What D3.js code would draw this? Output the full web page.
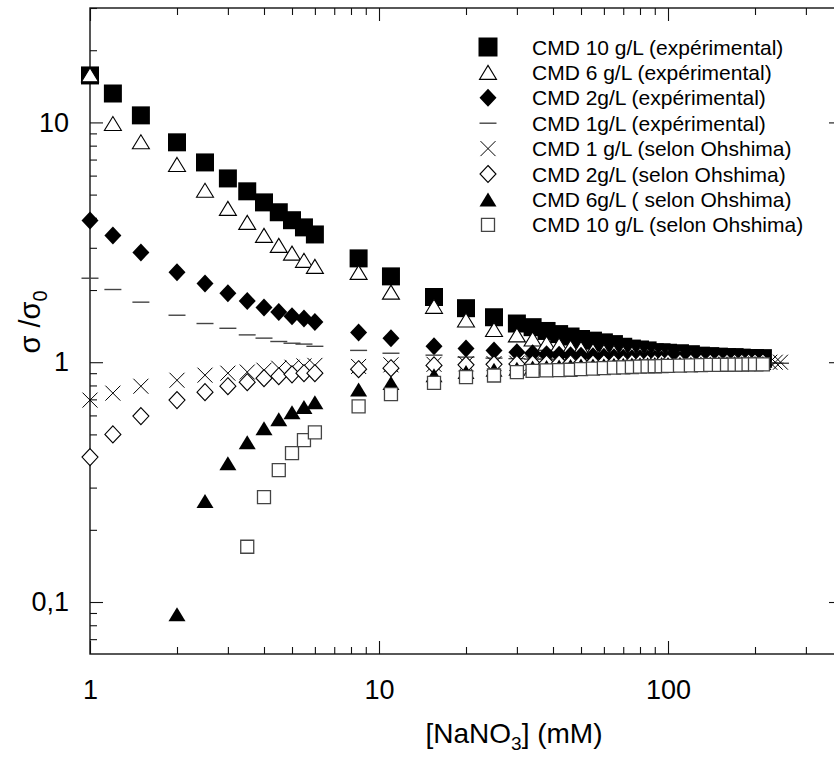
<!DOCTYPE html>
<html><head><meta charset="utf-8">
<script src="https://cdn.jsdelivr.net/npm/d3@7"></script>
<style>
body{margin:0;background:#fff}
svg{display:block}
text{font-family:"Liberation Sans",Arial,Helvetica,sans-serif;fill:#000}
</style>
</head><body>
<svg id="chart" width="834" height="758"></svg>
<script>
// ---- data ----
const concentration = [1, 1.2, 1.5, 2, 2.5, 3, 3.5, 4, 4.5, 5, 5.5, 6, 8.5, 11, 15.5, 20, 25, 30, 34, 38, 42, 46, 50, 55, 60, 65, 70, 75, 80, 85, 90, 95, 100, 110, 120, 130, 140, 150, 160, 170, 180, 190, 200, 213];
const tailConcentration = [225, 235, 245];

const cmd10Exp = [15.7, 13.2, 10.7, 8.26, 6.81, 5.84, 5.16, 4.64, 4.22, 3.91, 3.65, 3.41, 2.71, 2.28, 1.87, 1.68, 1.54, 1.45, 1.40, 1.35, 1.31, 1.28, 1.25, 1.23, 1.21, 1.19, 1.16, 1.14, 1.13, 1.12, 1.10, 1.10, 1.095, 1.09, 1.08, 1.065, 1.06, 1.055, 1.05, 1.05, 1.045, 1.04, 1.04, 1.04];
const cmd6Exp = [15.8, 9.9, 8.3, 6.68, 5.21, 4.38, 3.83, 3.38, 3.07, 2.85, 2.66, 2.51, 2.37, 1.96, 1.71, 1.50, 1.37, 1.30, 1.25, 1.20, 1.18, 1.155, 1.14, 1.12, 1.11, 1.10, 1.09, 1.085, 1.08, 1.07, 1.07, 1.065, 1.06, 1.055, 1.05, 1.045, 1.04, 1.035, 1.03, 1.03, 1.025, 1.02, 1.02, 1.02];
const cmd2Exp = [3.9, 3.38, 2.87, 2.37, 2.13, 1.94, 1.80, 1.69, 1.62, 1.555, 1.52, 1.47, 1.33, 1.26, 1.166, 1.14, 1.12, 1.10, 1.09, 1.08, 1.075, 1.07, 1.065, 1.06, 1.055, 1.05, 1.045, 1.04, 1.04, 1.035, 1.035, 1.03, 1.03, 1.025, 1.025, 1.02, 1.02, 1.02, 1.015, 1.015, 1.01, 1.01, 1.01, 1.01];
const cmd1Exp = [2.24, 2.01, 1.78, 1.57, 1.45, 1.385, 1.30, 1.26, 1.22, 1.20, 1.19, 1.165, 1.12, 1.09, 1.07, 1.05, 1.04, 1.035, 1.03, 1.03, 1.025, 1.025, 1.02, 1.02, 1.015, 1.015, 1.01, 1.01, 1.01, 1.005, 1.005, 1.005, 1.0, 1.0, 1.0, 1.0, 1.0, 0.995, 0.995, 0.995, 0.995, 0.995, 0.995, 0.995];
const cmd1ExpTail = [0.995, 0.99, 0.99];
const cmd1Ohshima = [0.695, 0.743, 0.794, 0.841, 0.883, 0.90, 0.91, 0.926, 0.944, 0.953, 0.965, 0.97, 0.96, 0.975, 0.98, 0.985, 0.987, 0.99, 0.992, 0.993, 0.994, 0.995, 0.995, 0.996, 0.996, 0.997, 0.997, 0.997, 0.998, 0.998, 0.998, 0.998, 0.999, 0.999, 0.999, 0.999, 0.999, 1.0, 1.0, 1.0, 1.0, 1.0, 1.0, 1.0];
const cmd1OhshimaTail = [1.0, 1.0, 1.0];
const cmd2Ohshima = [0.402, 0.50, 0.596, 0.695, 0.75, 0.794, 0.825, 0.858, 0.874, 0.89, 0.90, 0.90, 0.935, 0.944, 0.97, 0.975, 0.98, 0.983, 0.985, 0.987, 0.988, 0.989, 0.99, 0.99, 0.991, 0.992, 0.992, 0.993, 0.993, 0.994, 0.994, 0.994, 0.995, 0.995, 0.995, 0.996, 0.996, 0.996, 0.997, 0.997, 0.997, 0.998, 0.998, 0.998];
const cmd6Ohshima = [null, null, null, 0.089, 0.264, 0.379, 0.464, 0.53, 0.578, 0.619, 0.65, 0.68, 0.77, 0.82, 0.883, 0.91, 0.93, 0.94, 0.95, 0.955, 0.96, 0.965, 0.968, 0.97, 0.972, 0.975, 0.977, 0.978, 0.98, 0.981, 0.982, 0.983, 0.984, 0.985, 0.986, 0.987, 0.988, 0.989, 0.99, 0.99, 0.991, 0.992, 0.992, 0.993];
const cmd10Ohshima = [null, null, null, null, null, null, 0.17, 0.274, 0.355, 0.418, 0.473, 0.51, 0.655, 0.736, 0.82, 0.866, 0.88, 0.91, 0.92, 0.925, 0.926, 0.93, 0.935, 0.94, 0.945, 0.95, 0.952, 0.955, 0.958, 0.96, 0.962, 0.964, 0.966, 0.968, 0.97, 0.972, 0.974, 0.975, 0.976, 0.977, 0.978, 0.979, 0.98, 0.98];

const seriesLabels = [
  "CMD 10 g/L (expérimental)",
  "CMD 6 g/L (expérimental)",
  "CMD 2g/L (expérimental)",
  "CMD 1g/L (expérimental)",
  "CMD 1 g/L (selon Ohshima)",
  "CMD 2g/L (selon Ohshima)",
  "CMD 6g/L ( selon Ohshima)",
  "CMD 10 g/L (selon Ohshima)"
];
const xMajorTicks = [1, 10, 100];
const xTickLabels = ["1", "10", "100"];
const yMajorTicks = [0.1, 1, 10];
const yTickLabels = ["0,1", "1", "10"];

// ---- marker shapes ----
const shapes = {
  square: s => `M${-s/2},${-s/2}h${s}v${s}h${-s}Z`,
  triangle: (w, h) => `M0,${-h/2}L${w/2},${h/2}L${-w/2},${h/2}Z`,
  diamond: (w, h) => `M0,${-h/2}L${w/2},0L0,${h/2}L${-w/2},0Z`,
  dash: w => `M${-w/2},0H${w/2}`,
  cross: a => `M${-a},${-a}L${a},${a}M${-a},${a}L${a},${-a}`
};
const styles = [
  {d: shapes.square(18), fill: "#000", stroke: "none", sw: 0},
  {d: shapes.triangle(17, 14), fill: "#fff", stroke: "#000", sw: 1.1},
  {d: shapes.diamond(17, 18), fill: "#000", stroke: "none", sw: 0},
  {d: shapes.dash(17), fill: "none", stroke: "#444", sw: 1.4},
  {d: shapes.cross(7.5), fill: "none", stroke: "#000", sw: 1.0},
  {d: shapes.diamond(16, 17), fill: "#fff", stroke: "#000", sw: 1.1},
  {d: shapes.triangle(17, 14), fill: "#000", stroke: "none", sw: 0},
  {d: shapes.square(13), fill: "#fff", stroke: "#444", sw: 1.3}
];
const seriesValues = [cmd10Exp, cmd6Exp, cmd2Exp, cmd1Exp, cmd1Ohshima, cmd2Ohshima, cmd6Ohshima, cmd10Ohshima];
const tails = {3: cmd1ExpTail, 4: cmd1OhshimaTail};

// ---- scales ----
const svg = d3.select("#chart");
const mLeft = 90, mRight = 842, mTop = 8, mBottom = 654;
const x = d3.scaleLog().domain([1, 400]).range([mLeft, mRight]);
const y = d3.scaleLog().domain([0.0607, 30]).range([mBottom, mTop]);

const xMinor = [];
[1, 10, 100].forEach(d => { for (let k = 2; k <= 9; k++) { const v = d * k; if (v <= 400) xMinor.push(v); } });
const yMinor = [];
[0.01, 0.1, 1, 10].forEach(d => { for (let k = 2; k <= 9; k++) { const v = d * k; if (v >= 0.0607 && v <= 30) yMinor.push(v); } });

function styleAxis(g, fs) {
  g.attr("font-family", null).attr("font-size", null);
  g.select(".domain").remove();
  g.selectAll(".tick line").attr("stroke", "#111").attr("stroke-width", 1.1);
  g.selectAll(".tick text").style("font-size", fs + "px");
}

// bottom
svg.append("g").attr("transform", `translate(0,${mBottom})`)
  .call(d3.axisBottom(x).tickValues(xMinor).tickSizeInner(-7).tickSizeOuter(0).tickFormat(""))
  .call(g => styleAxis(g, 27));
svg.append("g").attr("transform", `translate(0,${mBottom})`)
  .call(d3.axisBottom(x).tickValues(xMajorTicks).tickSizeInner(-13).tickSizeOuter(0).tickPadding(26)
    .tickFormat((d, i) => xTickLabels[i]))
  .call(g => styleAxis(g, 27));
// top
svg.append("g").attr("transform", `translate(0,${mTop})`)
  .call(d3.axisTop(x).tickValues(xMinor).tickSizeInner(-7).tickSizeOuter(0).tickFormat(""))
  .call(g => styleAxis(g, 27));
svg.append("g").attr("transform", `translate(0,${mTop})`)
  .call(d3.axisTop(x).tickValues(xMajorTicks).tickSizeInner(-13).tickSizeOuter(0).tickFormat(""))
  .call(g => styleAxis(g, 27));
// left
svg.append("g").attr("transform", `translate(${mLeft},0)`)
  .call(d3.axisLeft(y).tickValues(yMinor).tickSizeInner(-7).tickSizeOuter(0).tickFormat(""))
  .call(g => styleAxis(g, 27));
svg.append("g").attr("transform", `translate(${mLeft},0)`)
  .call(d3.axisLeft(y).tickValues(yMajorTicks).tickSizeInner(-13).tickSizeOuter(0).tickPadding(21)
    .tickFormat((d, i) => yTickLabels[i]))
  .call(g => styleAxis(g, 27));
// right
svg.append("g").attr("transform", `translate(${mRight},0)`)
  .call(d3.axisRight(y).tickValues(yMinor).tickSizeInner(-7).tickSizeOuter(0).tickFormat(""))
  .call(g => styleAxis(g, 27));
svg.append("g").attr("transform", `translate(${mRight},0)`)
  .call(d3.axisRight(y).tickValues(yMajorTicks).tickSizeInner(-13).tickSizeOuter(0).tickFormat(""))
  .call(g => styleAxis(g, 27));

// frame
svg.append("rect").attr("x", mLeft).attr("y", mTop).attr("width", mRight - mLeft).attr("height", mBottom - mTop)
  .attr("fill", "none").attr("stroke", "#111").attr("stroke-width", 1.4);

// ---- points ----
seriesValues.forEach((vals, si) => {
  const st = styles[si];
  let pts = concentration.map((c, i) => ({c, v: vals[i]})).filter(p => p.v != null);
  if (tails[si]) pts = pts.concat(tailConcentration.map((c, i) => ({c, v: tails[si][i]})));
  svg.append("g").selectAll("path").data(pts).join("path")
    .attr("transform", p => `translate(${x(p.c)},${y(p.v)})`)
    .attr("d", st.d).attr("fill", st.fill).attr("stroke", st.stroke).attr("stroke-width", st.sw);
});

// ---- legend ----
const leg = svg.append("g");
seriesLabels.forEach((lab, i) => {
  const cy = 47 + i * 25.4;
  const st = styles[i];
  leg.append("path").attr("transform", `translate(488,${cy})`)
    .attr("d", i === 0 ? shapes.square(19) : st.d).attr("fill", st.fill).attr("stroke", st.stroke).attr("stroke-width", st.sw);
  leg.append("text").attr("x", 532).attr("y", cy + 7.5).style("font-size", "21px").text(lab);
});

// ---- axis titles ----
const xt = svg.append("text").attr("x", 514).attr("y", 743).attr("text-anchor", "middle").style("font-size", "28px");
xt.append("tspan").text("[NaNO");
xt.append("tspan").attr("dy", "7").style("font-size", "19px").text("3");
xt.append("tspan").attr("dy", "-7").text("] (mM)");

const yt = svg.append("text").attr("transform", "translate(40,322) rotate(-90)").attr("text-anchor", "middle").style("font-size", "29px");
yt.append("tspan").text("σ /σ");
yt.append("tspan").attr("dy", "7").style("font-size", "20px").text("0");
</script>
</body></html>
